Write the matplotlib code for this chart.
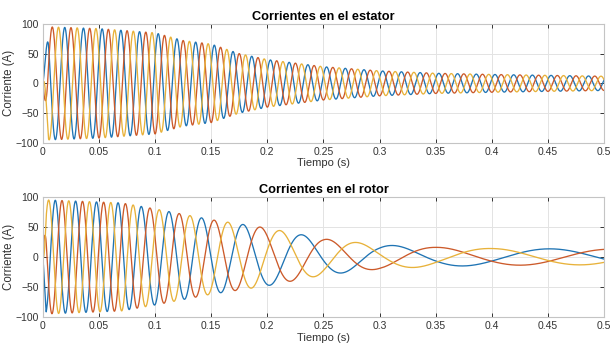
import numpy as np
import matplotlib.pyplot as plt

plt.rcParams['font.family'] = ['Liberation Sans', 'DejaVu Sans']

# -------------------------
# Datos: envolventes y frecuencias de las corrientes
# -------------------------

# Estator (frecuencia de red constante)
t_env_s = [0, 0.005, 0.05, 0.1, 0.125, 0.15, 0.175, 0.2, 0.25, 0.3, 0.35, 0.4, 0.5]
amp_s = [0, 95, 92, 85, 72, 66, 50, 40, 28, 21, 17, 15, 12]
f_estator = 60.0
fase_s = 0.5

# Rotor (frecuencia de deslizamiento decreciente)
t_env_r = [0, 0.003, 0.07, 0.1, 0.15, 0.2, 0.25, 0.3, 0.35, 0.4, 0.5]
amp_r = [0, 95, 90, 80, 62, 48, 30, 20, 16, 14, 13]
t_frec_r = [0, 0.07, 0.1, 0.125, 0.15, 0.175, 0.2, 0.25, 0.3, 0.35, 0.4, 0.5]
frec_r = [57, 51, 40, 35, 29, 24, 19, 14, 10, 7.5, 6.5, 6]
fase_r = -2.37

colores = ['#1f74b4', '#cc5a2a', '#e8b23a']
desfases = [0, -2 * np.pi / 3, 2 * np.pi / 3]

x_ticks = [0, 0.05, 0.1, 0.15, 0.2, 0.25, 0.3, 0.35, 0.4, 0.45, 0.5]
y_ticks = [-100, -50, 0, 50, 100]

# -------------------------
# Señales trifásicas
# -------------------------

t = np.linspace(0, 0.5, 10001)
dt = t[1] - t[0]


def trifasica(A, f, fase0):
    theta = 2 * np.pi * np.concatenate(([0], np.cumsum(f[:-1]) * dt))
    return [A * np.sin(theta + fase0 + d) for d in desfases]


A_s = np.interp(t, t_env_s, amp_s)
i_s = trifasica(A_s, np.full_like(t, f_estator), fase_s)

A_r = np.interp(t, t_env_r, amp_r)
f_r = np.interp(t, t_frec_r, frec_r)
i_r = trifasica(A_r, f_r, fase_r)

# -------------------------
# Graficar
# -------------------------

fig = plt.figure(figsize=(6.12, 3.51), dpi=100)
ax1 = fig.add_axes([0.070, 0.593, 0.917, 0.339])
ax2 = fig.add_axes([0.070, 0.097, 0.917, 0.342])

for ax, corrientes, titulo in [(ax1, i_s, "Corrientes en el estator"),
                               (ax2, i_r, "Corrientes en el rotor")]:
    for i, c in zip(corrientes, colores):
        ax.plot(t, i, color=c, lw=0.95)
    ax.set_xlim(0, 0.5)
    ax.set_ylim(-100, 100)
    ax.set_xticks(x_ticks)
    ax.set_xticklabels(['%g' % v for v in x_ticks])
    ax.set_yticks(y_ticks)
    ax.grid(True, color='#e3e3e3', lw=0.7)
    ax.set_axisbelow(True)
    for s in ax.spines.values():
        s.set_color('#c4c4c4')
        s.set_linewidth(0.8)
    ax.tick_params(direction='in', length=3, width=0.7, color='#333333',
                   labelsize=7.5, labelcolor='#333333', top=True, right=True, pad=3)
    ax.set_xlabel("Tiempo (s)", fontsize=8, color='#333333', labelpad=1)
    ax.set_ylabel("Corriente (A)", fontsize=8.3, color='#333333', labelpad=0)
    ax.set_title(titulo, fontsize=9.2, fontweight='bold', pad=3)

fig.savefig("out.png", dpi=100)
